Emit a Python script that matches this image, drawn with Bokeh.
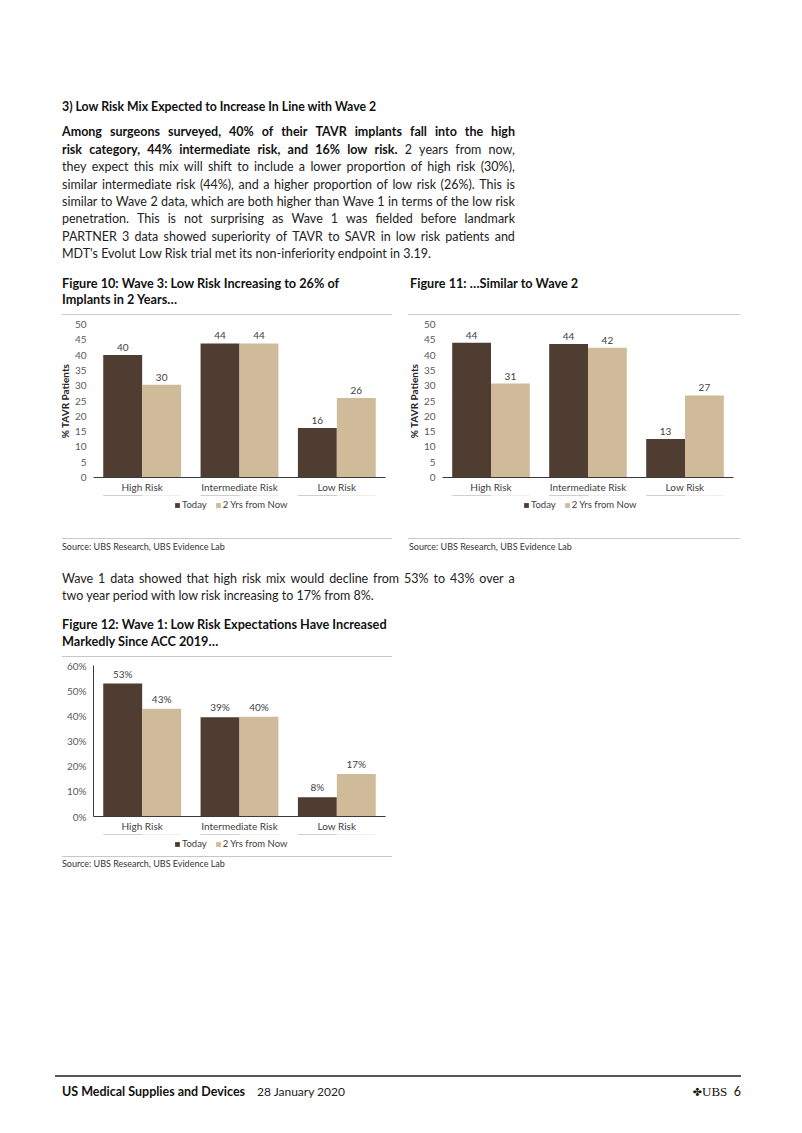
import html
from bokeh.plotting import figure
from bokeh.models import (ColumnDataSource, FactorRange, Range1d, Legend, LegendItem,
                          FixedTicker, PrintfTickFormatter, Div, Spacer)
from bokeh.layouts import column, row
from bokeh.transform import dodge
from bokeh.core.properties import value
from bokeh.embed import file_html
from bokeh.resources import INLINE

# ---------------- data ----------------
categories = ["High Risk", "Intermediate Risk", "Low Risk"]
series_names = ["Today", "2 Yrs from Now"]

wave3_today = [40.0, 43.8, 16.2]
wave3_future = [30.3, 43.8, 26.0]

wave2_today = [44.0, 43.6, 12.6]
wave2_future = [30.7, 42.4, 26.8]

wave1_today = [52.8, 39.4, 7.6]
wave1_future = [42.8, 39.6, 16.9]

wave3_ticks = [0, 5, 10, 15, 20, 25, 30, 35, 40, 45, 50]
wave1_ticks = [0, 10, 20, 30, 40, 50, 60]

# ---------------- style ----------------
FONT = "Lato"
C_TODAY = "#4e3d30"
C_FUTURE = "#cfbb9a"
TXT = "#404040"


def make_chart(today, future, y_max, ticks, pct, ylabel, yline, fw, fh, top):
    fmt = (lambda v: f"{v:.0f}%") if pct else (lambda v: f"{v:.0f}")
    src = ColumnDataSource(dict(cat=categories, today=today, future=future,
                                tl=[fmt(v) for v in today], fl=[fmt(v) for v in future]))
    p = figure(x_range=FactorRange(factors=categories), y_range=Range1d(0, y_max),
               frame_width=fw, frame_height=fh, output_backend="svg", toolbar_location=None,
               min_border_left=43, min_border_right=10, min_border_top=top,
               min_border_bottom=18, outline_line_color=None, background_fill_color="white",
               border_fill_color="white")
    p.vbar(x=dodge("cat", -0.2, range=p.x_range), top="today", width=0.4, source=src,
           fill_color=C_TODAY, line_color=None)
    p.vbar(x=dodge("cat", 0.2, range=p.x_range), top="future", width=0.4, source=src,
           fill_color=C_FUTURE, line_color=None)
    for col, lab, off in (("today", "tl", -0.2), ("future", "fl", 0.2)):
        p.text(x=dodge("cat", off, range=p.x_range), y=col, text=lab, source=src,
               text_align="center", text_baseline="bottom", y_offset=-4,
               text_font=value(FONT), text_font_size="10px", text_color=TXT)
    p.xgrid.visible = False
    p.ygrid.visible = False

    xa = p.xaxis[0]
    xa.axis_line_color = "#3a3a3a"
    xa.axis_line_width = 1.2
    xa.major_tick_line_color = None
    xa.minor_tick_line_color = None
    xa.major_tick_out = 0
    xa.major_tick_in = 0
    xa.major_label_text_font = FONT
    xa.major_label_text_font_size = "10px"
    xa.major_label_text_color = TXT
    xa.major_label_standoff = 3

    ya = p.yaxis[0]
    ya.ticker = FixedTicker(ticks=ticks)
    if pct:
        ya.formatter = PrintfTickFormatter(format="%d%%")
    ya.axis_line_color = "#3a3a3a" if yline else None
    ya.major_tick_line_color = None
    ya.minor_tick_line_color = None
    ya.major_tick_out = 0
    ya.major_tick_in = 0
    ya.major_label_text_font = FONT
    ya.major_label_text_font_size = "10px"
    ya.major_label_text_color = "#595959"
    ya.major_label_standoff = 7
    if ylabel:
        ya.axis_label = ylabel
        ya.axis_label_text_font = FONT
        ya.axis_label_text_font_style = "bold"
        ya.axis_label_text_font_size = "10px"
        ya.axis_label_text_color = "#262626"
        ya.axis_label_standoff = 1
    return p, src


def make_legend(src, fw, fh):
    # legend strip below the chart; its bars sit outside the visible y-range
    lp = figure(x_range=FactorRange(factors=categories), y_range=Range1d(-2, -1),
                frame_width=fw, frame_height=fh, output_backend="svg", toolbar_location=None,
                x_axis_location=None, y_axis_location=None, min_border_left=43,
                min_border_right=10, min_border_top=0, min_border_bottom=0,
                outline_line_color=None, background_fill_color="white",
                border_fill_color="white")
    lp.xgrid.visible = False
    lp.ygrid.visible = False
    e1 = lp.vbar(x=dodge("cat", -0.2, range=lp.x_range), top="today", width=0.4,
                 source=src, fill_color=C_TODAY, line_color=None)
    e2 = lp.vbar(x=dodge("cat", 0.2, range=lp.x_range), top="future", width=0.4,
                 source=src, fill_color=C_FUTURE, line_color=None)
    legend = Legend(items=[LegendItem(label=series_names[0], renderers=[e1]),
                           LegendItem(label=series_names[1], renderers=[e2])],
                    location=(81, 2), orientation="horizontal",
                    border_line_color=None, background_fill_alpha=0, padding=0,
                    margin=0, spacing=8, glyph_width=6, glyph_height=6,
                    label_standoff=2, label_text_font=FONT, label_height=10,
                    label_text_font_size="9.5px", label_text_color=TXT)
    lp.add_layout(legend, "center")
    return lp


fig10, src10 = make_chart(wave3_today, wave3_future, 50, wave3_ticks, False, "% TAVR Patients",
                          False, 292, 153, 8)
fig11, src11 = make_chart(wave2_today, wave2_future, 50, wave3_ticks, False, "% TAVR Patients",
                          False, 291, 153, 8)
fig12, src12 = make_chart(wave1_today, wave1_future, 60, wave1_ticks, True, None,
                          True, 292, 151, 7)
leg10 = make_legend(src10, 292, 17)
leg11 = make_legend(src11, 291, 17)
leg12 = make_legend(src12, 292, 17)

# ---------------- page text ----------------
FF = "font-family:Lato,'Open Sans',sans-serif;"
W = 790


def esc(s):
    return html.escape(s)


def text_at(X, Yc, oy, content, size, weight=400, color="#222", lh=16):
    return (f'<div style="position:absolute;left:{X}px;top:{Yc-oy-lh/2:.1f}px;'
            f'line-height:{lh}px;font-size:{size}px;font-weight:{weight};color:{color};'
            f'white-space:nowrap;{FF}">{esc(content)}</div>')


def text_right(Xr, Yc, oy, content_html, size, color="#222", lh=16):
    return (f'<div style="position:absolute;right:{W-Xr}px;top:{Yc-oy-lh/2:.1f}px;'
            f'line-height:{lh}px;font-size:{size}px;color:{color};white-space:nowrap;{FF}">'
            f'{content_html}</div>')


def just_line(X, Yc, oy, width, segments, size, color="#222", lh=16):
    spans = []
    for txt, bold in segments:
        for w in txt.split():
            spans.append(f'<span style="font-weight:{700 if bold else 400};'
                         f'color:{"#111" if bold else color}">{esc(w)}</span>')
    return (f'<div style="position:absolute;left:{X}px;top:{Yc-oy-lh/2:.1f}px;'
            f'width:{width}px;display:flex;justify-content:space-between;line-height:{lh}px;'
            f'font-size:{size}px;white-space:nowrap;{FF}">{"".join(spans)}</div>')


def hline(X1, X2, Y, oy, color="#c8c8c8", thick=1):
    return (f'<div style="position:absolute;left:{X1}px;top:{Y-oy-thick/2:.1f}px;'
            f'width:{X2-X1}px;height:{thick}px;background:{color}"></div>')


def make_div(height, parts):
    inner = "".join(parts)
    return Div(text=f'<div style="position:relative;width:{W}px;height:{height}px;'
                    f'overflow:hidden;background:white">{inner}</div>',
               width=W, height=height, margin=0)


BODY = 12.5
HEAD = 12.3
FIGT = 12.7
heading = "3) Low Risk Mix Expected to Increase In Line with Wave 2"
para = [
    [("Among surgeons surveyed, 40% of their TAVR implants fall into the high", True)],
    [("risk category, 44% intermediate risk, and 16% low risk.", True), ("2 years from now,", False)],
    [("they expect this mix will shift to include a lower proportion of high risk (30%),", False)],
    [("similar intermediate risk (44%), and a higher proportion of low risk (26%). This is", False)],
    [("similar to Wave 2 data, which are both higher than Wave 1 in terms of the low risk", False)],
    [("penetration. This is not surprising as Wave 1 was fielded before landmark", False)],
    [("PARTNER 3 data showed superiority of TAVR to SAVR in low risk patients and", False)],
]
para_last = "MDT's Evolut Low Risk trial met its non-inferiority endpoint in 3.19."

oy = 0
top_parts = [text_at(62, 107, oy, heading, HEAD, 700, "#111")]
for i, segs in enumerate(para):
    top_parts.append(just_line(62, 132.3 + 17.4 * i, oy, 453, segs, BODY))
top_parts.append(text_at(62, 132.3 + 17.4 * 7, oy, para_last, BODY, 400, "#222"))
top_parts.append(text_at(62, 283.3, oy, "Figure 10: Wave 3: Low Risk Increasing to 26% of", FIGT, 700, "#111"))
top_parts.append(text_at(62, 299.3, oy, "Implants in 2 Years\u2026", FIGT, 700, "#111"))
top_parts.append(text_at(410, 283.3, oy, "Figure 11: \u2026Similar to Wave 2", FIGT, 700, "#111"))
top_parts.append(hline(62, 392, 314.3, oy))
top_parts.append(hline(408, 740, 314.3, oy))
top_div = make_div(316, top_parts)

SRC = "Source: UBS Research, UBS Evidence Lab"
oy = 512
mid_parts = [
    hline(62, 392, 538.3, oy), hline(408, 740, 538.3, oy),
    text_at(62, 546.7, oy, SRC, 9, 400, "#333"),
    text_at(409, 546.7, oy, SRC, 9, 400, "#333"),
    just_line(62, 579, oy, 453, [("Wave 1 data showed that high risk mix would decline from 53% to 43% over a", False)], BODY),
    text_at(62, 596, oy, "two year period with low risk increasing to 17% from 8%.", BODY, 400, "#222"),
    text_at(62, 624.3, oy, "Figure 12: Wave 1: Low Risk Expectations Have Increased", FIGT, 700, "#111"),
    text_at(62, 641, oy, "Markedly Since ACC 2019\u2026", FIGT, 700, "#111"),
    hline(62, 392, 656, oy),
]
mid_div = make_div(146, mid_parts)

oy = 851
bot_parts = [
    hline(62, 392, 856, oy),
    text_at(62, 864.3, oy, SRC, 9, 400, "#333"),
    hline(55, 741, 1076, oy, "#555", 1.5),
    text_at(62, 1092, oy, "US Medical Supplies and Devices", 12.5, 700, "#111"),
    text_at(257, 1092, oy, "28 January 2020", 12, 400, "#222"),
    text_right(741, 1092, oy,
               '<span style="font-family:\'DejaVu Sans\';font-size:11px">\u2724</span>'
               '<span style="font-family:\'Liberation Serif\',serif;font-size:13px">UBS</span>'
               '&nbsp;&nbsp;<span style="font-size:12.5px">6</span>', 12.5, "#111"),
]
bot_div = make_div(262, bot_parts)

layout = column(
    top_div,
    row(Spacer(width=50, height=196, margin=0), column(fig10, leg10, spacing=0),
        Spacer(width=4, height=196, margin=0), column(fig11, leg11, spacing=0)),
    mid_div,
    row(Spacer(width=50, height=193, margin=0), column(fig12, leg12, spacing=0)),
    bot_div,
    spacing=0,
)

open("out.html", "w").write(file_html(layout, INLINE, title="UBS TAVR risk mix"))
